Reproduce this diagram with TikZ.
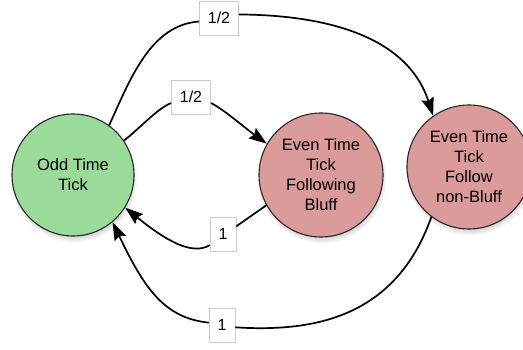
\documentclass[tikz,border=0pt]{standalone}
\usepackage{fontspec}
\setmainfont{Liberation Sans}
\usetikzlibrary{arrows.meta,shadows,fadings}
\definecolor{oddgreen}{RGB}{155,219,153}
\definecolor{evenpink}{RGB}{219,155,155}
\begin{document}
\begin{tikzpicture}[x=1pt,y=-1pt,
  state/.style={circle, draw=black!85, line width=1.1pt, align=center, inner sep=0pt,
    font=\fontsize{16.5}{20}\selectfont,
    circular drop shadow={shadow xshift=1pt, shadow yshift=-4pt, shadow scale=1.04, opacity=0.45}},
  prob/.style={draw=black!20, fill=white, line width=0.6pt, inner xsep=8.5pt, inner ysep=0pt,
    minimum height=34pt, font=\fontsize{16}{20}\selectfont},
  conn/.style={line width=1.7pt, black},
  tip/.style={conn, -{Stealth[length=18pt,width=12.5pt,inset=2.5pt]}}]
\useasboundingbox (0,0) rectangle (523,350);
\node[state, fill=oddgreen, minimum size=122pt] (odd) at (73,175) {Odd Time\\Tick};
\node[state, fill=evenpink, minimum size=124pt] (bluff) at (321,175) {Even Time\\Tick\\Following\\Bluff};
\node[state, fill=evenpink, minimum size=124pt] (nonbluff) at (469,167) {Even Time\\Tick\\Follow\\non-Bluff};
\node[prob] (l1) at (219,18) {1/2};
\node[prob] (l2) at (191,97) {1/2};
\node[prob] (l3) at (223,234) {1};
\node[prob] (l4) at (222,325) {1};
% odd -> nonbluff (top)
\draw[conn] (odd.54) .. controls (130,80) and (150,25) .. (l1.190);
\draw[tip] (l1.10) .. controls (330,15) and (408,38) .. (nonbluff.125);
% odd -> bluff
\draw[conn] (odd.34) .. controls (140,128) and (158,108) .. (l2.197);
\draw[tip] (l2.-17) .. controls (222,108) and (245,128) .. (bluff.150);
% bluff -> odd
\draw[conn] (bluff.209) -- (l3.30);
\draw[tip] (l3.220) .. controls (192,256) and (165,240) .. (odd.328);
% nonbluff -> odd (bottom)
\draw[conn] (nonbluff.233) .. controls (395,320) and (310,332) .. (l4.-10);
\draw[tip] (l4.170) .. controls (165,318) and (145,290) .. (odd.310);
\end{tikzpicture}
\end{document}
